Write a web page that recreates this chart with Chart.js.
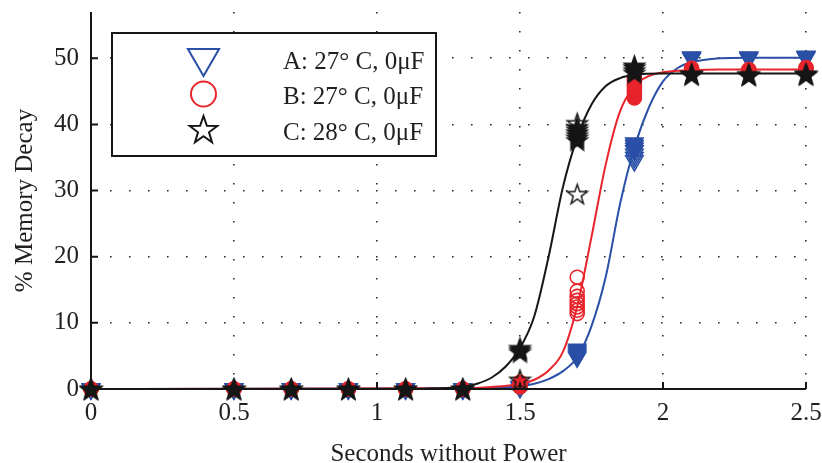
<!DOCTYPE html>
<html><head><meta charset="utf-8">
<script src="https://cdn.jsdelivr.net/npm/chart.js@4.4.1/dist/chart.umd.min.js"></script>
<style>html,body{margin:0;padding:0;background:#fff}#wrap{width:822px;height:463px}</style>
</head><body><div id="wrap"><canvas id="c" width="822" height="463"></canvas></div>
<script>
// ---- data ----
const times = [0, 0.5, 0.7, 0.9, 1.1, 1.3, 1.5, 1.7, 1.9, 2.1, 2.3, 2.5];
const decayA = [[0,0,0],[0,0,0],[0,0,0],[0,0,0],[0,0,0],[0,0,0],
  [0.2,0.3,0.4],[4.8,5.1,5.4,5.7,6.0],[34.5,35.0,35.5,36.0,36.4,36.8,37.2],
  [50.0,50.1,50.2],[50.0,50.1,50.2],[50.1,50.2,50.3]];
const decayB = [[0,0,0],[0,0,0],[0,0,0],[0,0,0],[0,0,0],[0,0,0],
  [0.3,0.6,1.0],[11.4,11.9,12.4,12.9,13.4,14.0,14.8,16.9],[44.0,44.4,44.8,45.2,45.6,46.0,46.5,47.0],
  [48.1,48.3,48.5],[47.9,48.1,48.3],[48.2,48.4,48.6]];
const decayC = [[0,0,0],[0,0,0],[0,0,0],[0,0,0],[0,0,0],[0,0,0],
  [1.4,5.6,5.9,6.2],[29.5,37.6,38.0,38.4,38.8,39.2,39.6,40.2],[47.8,48.2,48.6,48.9],
  [47.5,47.6,47.7],[47.4,47.5,47.6],[47.5,47.6,47.7]];
const fitX_A = [0, 1.3, 1.4, 1.5, 1.55, 1.6, 1.65, 1.7, 1.75, 1.8, 1.85, 1.9, 1.95, 2.0, 2.05, 2.1, 2.2, 2.3, 2.5];
const fitY_A = [0, 0.05, 0.15, 0.4, 0.8, 1.5, 2.7, 4.8, 9.5, 17, 28, 36.5, 42.5, 46.5, 48.5, 49.4, 50.0, 50.1, 50.1];
const fitX_B = [0, 1.3, 1.4, 1.5, 1.55, 1.6, 1.65, 1.7, 1.75, 1.8, 1.85, 1.9, 1.95, 2.0, 2.1, 2.2, 2.5];
const fitY_B = [0, 0.1, 0.3, 0.8, 1.4, 2.8, 5.6, 12.5, 23, 34, 42, 45.8, 47.3, 47.9, 48.2, 48.3, 48.3];
const fitX_C = [0, 1.1, 1.2, 1.3, 1.35, 1.4, 1.45, 1.5, 1.55, 1.6, 1.65, 1.7, 1.75, 1.8, 1.85, 1.9, 2.0, 2.2, 2.5];
const fitY_C = [0, 0.02, 0.1, 0.35, 0.8, 1.7, 3.4, 6.2, 11, 20, 30.5, 38, 43, 45.8, 47, 47.5, 47.7, 47.7, 47.7];
const xTicks = [0, 0.5, 1, 1.5, 2, 2.5];
const yTicks = [0, 10, 20, 30, 40, 50];
const seriesLabels = ['A: 27° C, 0μF', 'B: 27° C, 0μF', 'C: 28° C, 0μF'];
const xTitle = 'Seconds without Power';
const yTitle = '% Memory Decay';

// ---- styling ----
const BLUE = '#2a4fa6', RED = '#e8242c', BLACK = '#161616', TEXT = '#231f20';
const FONT = "'Liberation Serif', 'Times New Roman', serif";

function pts(xs, ys){ return xs.map((x,i)=>({x:x, y:ys[i]})); }
function trials(arr){ const out=[]; times.forEach((t,i)=>arr[i].forEach(v=>out.push({x:t,y:v}))); return out; }
function crowded(ctx){
  const d = ctx.dataset.data, p = d[ctx.dataIndex];
  if(!p) return false;
  return d.some((q,i)=> i!==ctx.dataIndex && q.x===p.x && Math.abs(q.y-p.y) < 0.45);
}
function starPath(c, x, y, R, r){
  c.beginPath();
  for(let k=0;k<10;k++){
    const rad = (k%2===0)?R:r, a = -Math.PI/2 + k*Math.PI/5;
    const px = x + rad*Math.cos(a), py = y + rad*Math.sin(a);
    if(k===0) c.moveTo(px,py); else c.lineTo(px,py);
  }
  c.closePath();
}
function starImage(R, filled){
  const cv = document.createElement('canvas');
  const s = Math.ceil(2*R + 4); cv.width = s; cv.height = s;
  const c = cv.getContext('2d');
  starPath(c, s/2, s/2 + R*0.1, R, R*0.4);
  if(filled){ c.fillStyle = BLACK; c.fill(); }
  c.lineWidth = 1.5; c.strokeStyle = BLACK; c.lineJoin='miter'; c.stroke();
  return cv;
}
const starHollow = starImage(10.5, false), starFilled = starImage(10.5, true);

const axesPlugin = {
  id: 'axesInside',
  afterDatasetsDraw(chart){
    const c = chart.ctx, xs = chart.scales.x, ys = chart.scales.y, a = chart.chartArea;
    c.save();
    c.strokeStyle = BLACK; c.lineWidth = 2;
    c.beginPath();
    c.moveTo(a.left, a.top); c.lineTo(a.left, a.bottom); c.lineTo(a.right, a.bottom);
    xTicks.forEach(v=>{ const p = xs.getPixelForValue(v); c.moveTo(p, a.bottom); c.lineTo(p, a.bottom-7); });
    yTicks.forEach(v=>{ const p = ys.getPixelForValue(v); c.moveTo(a.left, p); c.lineTo(a.left+7, p); });
    c.stroke();
    // legend box
    const L = 112, T = 33, W = 324, H = 123;
    c.fillStyle = '#fff'; c.fillRect(L, T, W, H);
    c.lineWidth = 2; c.strokeStyle = BLACK; c.strokeRect(L, T, W, H);
    const sx = 203.5;
    let y = 58, R = 18;
    c.beginPath();
    c.moveTo(sx, y+R); c.lineTo(sx - R*Math.sin(Math.PI/3), y - R/2); c.lineTo(sx + R*Math.sin(Math.PI/3), y - R/2); c.closePath();
    c.lineWidth = 2; c.strokeStyle = BLUE; c.stroke();
    c.beginPath(); c.arc(sx, 94, 12.5, 0, Math.PI*2); c.strokeStyle = RED; c.stroke();
    starPath(c, sx, 130.5, 14.5, 5.8); c.strokeStyle = BLACK; c.lineWidth = 2; c.stroke();
    c.fillStyle = TEXT; c.font = '25px ' + FONT; c.textBaseline = 'alphabetic'; c.textAlign = 'left';
    [68.5, 104, 140].forEach((yy,i)=> c.fillText(seriesLabels[i], 283, yy));
    c.restore();
  }
};

const gridCommon = { color: '#2a2a2a', lineWidth: 1.6, drawTicks: false };

new Chart(document.getElementById('c'), {
  data: {
    datasets: [
      { type:'line', data: pts(fitX_C, fitY_C), borderColor: BLACK, borderWidth: 2, pointRadius: 0, cubicInterpolationMode:'monotone', order: 1 },
      { type:'scatter', data: trials(decayC), clip: false, order: 2,
        pointStyle: ctx => crowded(ctx) ? starFilled : starHollow, pointRadius: 10 },
      { type:'line', data: pts(fitX_B, fitY_B), borderColor: RED, borderWidth: 2, pointRadius: 0, cubicInterpolationMode:'monotone', order: 3 },
      { type:'scatter', data: trials(decayB), clip: false, order: 4,
        pointStyle: 'circle', pointRadius: 7, borderWidth: 1.6, borderColor: RED,
        backgroundColor: ctx => crowded(ctx) ? RED : 'rgba(0,0,0,0)' },
      { type:'line', data: pts(fitX_A, fitY_A), borderColor: BLUE, borderWidth: 2, pointRadius: 0, cubicInterpolationMode:'monotone', order: 5 },
      { type:'scatter', data: trials(decayA), clip: false, order: 6,
        pointStyle: 'triangle', rotation: 180, pointRadius: 10, borderWidth: 1.6, borderColor: BLUE,
        backgroundColor: ctx => crowded(ctx) ? BLUE : 'rgba(0,0,0,0)' }
    ]
  },
  options: {
    responsive: false, animation: false, devicePixelRatio: 1, events: [],
    layout: { padding: { left: 0, right: 16, top: 12, bottom: 0 } },
    plugins: { legend: { display: false }, tooltip: { enabled: false } },
    scales: {
      x: { type: 'linear', min: 0, max: 2.5,
        afterBuildTicks: s => { s.ticks = xTicks.map(v=>({value:v})); },
        afterFit: s => { s.height = 74; s.paddingLeft = 0; s.paddingRight = 0; },
        grid: gridCommon, border: { display: false, dash: [1.6, 17.4] },
        ticks: { color: TEXT, font: { family: FONT, size: 25 }, padding: 9, maxRotation: 0, callback: v => String(v) },
        title: { display: true, text: xTitle, color: TEXT, font: { family: FONT, size: 25, lineHeight: 1 }, padding: { top: 0, bottom: -4 } }
      },
      y: { type: 'linear', min: 0, max: 57,
        afterBuildTicks: s => { s.ticks = yTicks.map(v=>({value:v})); },
        afterFit: s => { s.width = 91; s.paddingTop = 0; s.paddingBottom = 0; },
        grid: gridCommon, border: { display: false, dash: [1.6, 17.4] },
        ticks: { color: TEXT, font: { family: FONT, size: 25 }, padding: 12, callback: v => String(v) },
        title: { display: true, text: yTitle, color: TEXT, font: { family: FONT, size: 25, lineHeight: 1 }, padding: { top: 13, bottom: 0 } }
      }
    }
  },
  plugins: [axesPlugin]
});
</script></body></html>
